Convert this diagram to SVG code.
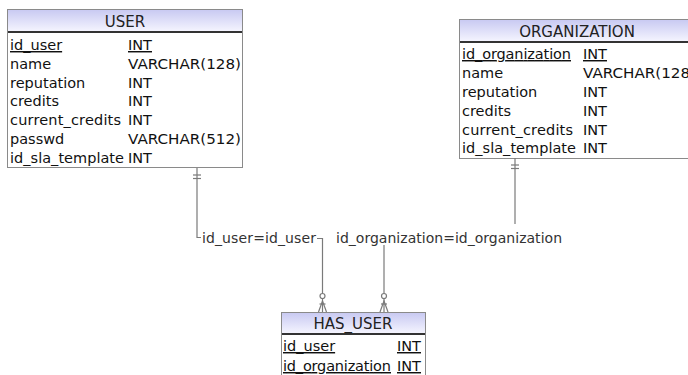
<svg xmlns="http://www.w3.org/2000/svg" width="688" height="375" viewBox="0 0 688 375">
  <defs>
    <linearGradient id="hdr" x1="0" y1="0" x2="0" y2="1">
      <stop offset="0" stop-color="#c9caf2"/>
      <stop offset="1" stop-color="#f6f6ff"/>
    </linearGradient>
    <style>
      .box { fill: #ffffff; stroke: #8a8a8a; stroke-width: 1; }
      .hdr { fill: url(#hdr); stroke: none; }
      .sep { stroke: #333333; stroke-width: 2; }
      .t { font-family: "DejaVu Sans", Verdana, sans-serif; font-size: 14.5px; fill: #111111; }
      .title { font-family: "DejaVu Sans", Verdana, sans-serif; font-size: 15px; fill: #222222; text-anchor: middle; }
      .pk { text-decoration: underline; }
      .conn { fill: none; stroke: #7a7a7a; stroke-width: 1.2; }
      .lbl { font-family: "DejaVu Sans", Verdana, sans-serif; font-size: 14px; fill: #333333; }
    </style>
  </defs>

  <!-- USER table -->
  <g id="user">
    <rect class="box" x="7.5" y="9.5" width="235" height="158"/>
    <rect class="hdr" x="8" y="10" width="234" height="22"/>
    <line class="sep" x1="8" y1="32" x2="242" y2="32"/>
    <text class="title" x="125" y="27">USER</text>
    <text class="t pk" x="10" y="50">id_user</text><text class="t pk" x="128" y="50">INT</text>
    <text class="t" x="10" y="69">name</text><text class="t" x="128" y="69" textLength="113" lengthAdjust="spacingAndGlyphs">VARCHAR(128)</text>
    <text class="t" x="10" y="88">reputation</text><text class="t" x="128" y="88">INT</text>
    <text class="t" x="10" y="106">credits</text><text class="t" x="128" y="106">INT</text>
    <text class="t" x="10" y="125" textLength="111">current_credits</text><text class="t" x="128" y="125">INT</text>
    <text class="t" x="10" y="144">passwd</text><text class="t" x="128" y="144" textLength="113" lengthAdjust="spacingAndGlyphs">VARCHAR(512)</text>
    <text class="t" x="10" y="163" textLength="114">id_sla_template</text><text class="t" x="128" y="163">INT</text>
  </g>

  <!-- ORGANIZATION table (runs past the right edge) -->
  <g id="organization">
    <rect class="box" x="459.5" y="19.5" width="240" height="139"/>
    <rect class="hdr" x="460" y="20" width="240" height="22"/>
    <line class="sep" x1="460" y1="42" x2="700" y2="42"/>
    <text class="title" x="577" y="37">ORGANIZATION</text>
    <text class="t pk" x="462" y="59" textLength="109">id_organization</text><text class="t pk" x="583" y="59">INT</text>
    <text class="t" x="462" y="78">name</text><text class="t" x="583" y="78" textLength="113" lengthAdjust="spacingAndGlyphs">VARCHAR(128)</text>
    <text class="t" x="462" y="97">reputation</text><text class="t" x="583" y="97">INT</text>
    <text class="t" x="462" y="116">credits</text><text class="t" x="583" y="116">INT</text>
    <text class="t" x="462" y="135" textLength="111">current_credits</text><text class="t" x="583" y="135">INT</text>
    <text class="t" x="462" y="153" textLength="114">id_sla_template</text><text class="t" x="583" y="153">INT</text>
  </g>

  <!-- HAS_USER table (runs past the bottom edge) -->
  <g id="has_user">
    <rect class="box" x="281.5" y="312.5" width="144" height="70"/>
    <rect class="hdr" x="282" y="313" width="143" height="21"/>
    <line class="sep" x1="282" y1="334" x2="425" y2="334"/>
    <text class="title" x="353" y="329">HAS_USER</text>
    <text class="t pk" x="283" y="351">id_user</text><text class="t pk" x="397" y="351">INT</text>
    <text class="t pk" x="283" y="371" textLength="108">id_organization</text><text class="t pk" x="397" y="371">INT</text>
  </g>

  <!-- relationships -->
  <g id="connectors">
    <!-- USER 1 : N HAS_USER -->
    <polyline class="conn" points="197,168 197,237.5 201,237.5"/>
    <line class="conn" x1="193" y1="175" x2="201" y2="175"/>
    <line class="conn" x1="193" y1="178.5" x2="201" y2="178.5"/>
    <polyline class="conn" points="317,238.5 322.5,238.5 322.5,293.5"/>
    <circle class="conn" cx="322.5" cy="296" r="2.5"/>
    <line class="conn" x1="322.5" y1="298.5" x2="322.5" y2="312"/>
    <polyline class="conn" points="318.5,312 322.5,301 326.5,312"/>
    <line class="conn" x1="319.5" y1="304" x2="325.5" y2="304"/>
    <text class="lbl" x="202" y="243" textLength="114">id_user=id_user</text>

    <!-- ORGANIZATION 1 : N HAS_USER -->
    <line class="conn" x1="515" y1="158" x2="515" y2="224"/>
    <line class="conn" x1="511" y1="165" x2="519" y2="165"/>
    <line class="conn" x1="511" y1="168.5" x2="519" y2="168.5"/>
    <line class="conn" x1="384" y1="245" x2="384" y2="293.5"/>
    <circle class="conn" cx="384" cy="296" r="2.5"/>
    <line class="conn" x1="384" y1="298.5" x2="384" y2="312"/>
    <polyline class="conn" points="380,312 384,301 388,312"/>
    <line class="conn" x1="381" y1="304" x2="387" y2="304"/>
    <text class="lbl" x="336" y="243" textLength="226">id_organization=id_organization</text>
  </g>
</svg>
